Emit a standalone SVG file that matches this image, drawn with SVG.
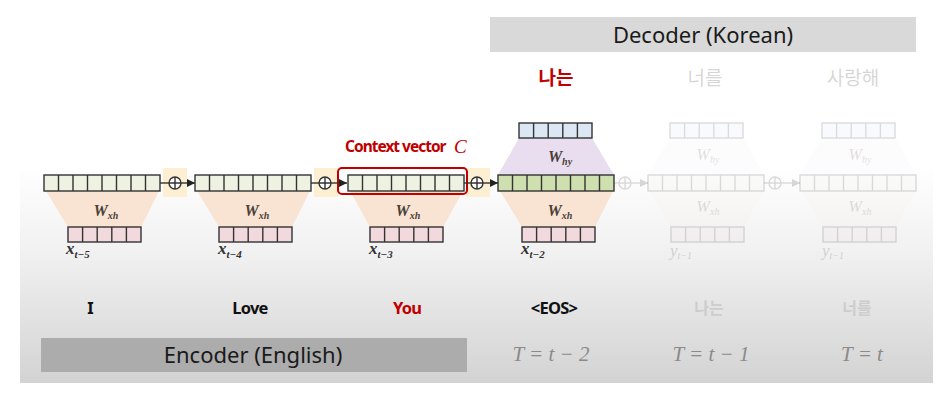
<svg xmlns="http://www.w3.org/2000/svg" width="950" height="400" viewBox="0 0 950 400">
<style>
.hid{fill:#eef2e2;stroke:#333;stroke-width:1.4}
.hidd{fill:#cfe0b0;stroke:#333;stroke-width:1.4}
.inp{fill:#f2d9dd;stroke:#333;stroke-width:1.4}
.out{fill:#dce7f4;stroke:#333;stroke-width:1.4}
.tw{fill:#f9e4d4}
.tp{fill:#e9def0}
.glow{fill:#fdf0d2}
.conn{stroke:#333;stroke-width:1.4;fill:none}
.plus{fill:#fff;stroke:#333;stroke-width:1.4}
.w{font-family:"Liberation Serif",serif;font-style:italic;font-weight:bold;font-size:16px;fill:#4a4038;text-anchor:middle}
.xl{font-family:"Liberation Serif",serif;font-style:italic;font-weight:bold;font-size:17px;fill:#333}
.word{font-family:"Noto Sans",sans-serif;font-weight:bold;font-size:16.5px;fill:#111;text-anchor:middle;letter-spacing:-0.8px}
.hdr{font-family:"Noto Sans",sans-serif;font-size:22px;fill:#1a1a1a;text-anchor:middle}
.kr{font-family:"Noto Sans CJK KR",sans-serif;font-size:19px;text-anchor:middle}
.tt{font-family:"Liberation Serif",serif;font-style:italic;font-size:21px;fill:#8a8a8a;text-anchor:middle}
.faded{opacity:0.17}
.fadedtrap{opacity:0.35}
</style>
<defs>
<linearGradient id="bg" x1="0" y1="0" x2="0" y2="1">
<stop offset="0" stop-color="#ffffff"/>
<stop offset="0.4" stop-color="#f1f1f1"/>
<stop offset="1" stop-color="#d3d3d3"/>
</linearGradient>
<g id="h8"><rect x="0" y="0" width="116" height="16"/><path d="M14.5 0V16M29 0V16M43.5 0V16M58 0V16M72.5 0V16M87 0V16M101.5 0V16"/></g>
<g id="v5"><rect x="0" y="0" width="73" height="15"/><path d="M14.6 0V15M29.2 0V15M43.8 0V15M58.4 0V15"/></g>
<g id="plusSign"><circle cx="0" cy="0" r="6"/><path d="M-6 0H6M0 -6V6"/></g>
<marker id="arr" viewBox="0 0 10 10" refX="10" refY="5" markerWidth="8" markerHeight="8" orient="auto" markerUnits="userSpaceOnUse"><path d="M0 0L10 5L0 10z" fill="#222"/></marker>
</defs>

<rect x="0" y="0" width="950" height="400" fill="#ffffff"/>
<rect x="20" y="165" width="913" height="218" fill="url(#bg)"/>

<g id="decoder-header">
<rect x="490" y="17" width="426" height="35" fill="#d9d9d9"/>
<text class="hdr" x="703" y="43">Decoder (Korean)</text>
</g>

<g id="encoder-footer">
<rect x="41" y="338" width="426" height="34" fill="#acacac"/>
<text class="hdr" x="253" y="363">Encoder (English)</text>
</g>

<g id="glows">
<rect class="glow" x="163" y="168" width="24" height="29"/>
<rect class="glow" x="314" y="168" width="24" height="29"/>
<rect class="glow" x="466" y="168" width="24" height="29"/>
</g>

<g id="enc1">
<polygon class="tw" points="46,191 159,191 141,227 68,227"/>
<use href="#h8" x="44" y="175" class="hid"/>
<use href="#v5" x="68" y="227" class="inp"/>
<text class="w" x="106" y="216">W<tspan font-size="10" dy="3">xh</tspan></text>
<text class="xl" x="66" y="254">x<tspan font-size="11" dy="4">t−5</tspan></text>
<text class="word" x="90" y="314">I</text>
</g>

<g id="enc2">
<polygon class="tw" points="197,191 310,191 292,227 219,227"/>
<use href="#h8" x="195" y="175" class="hid"/>
<use href="#v5" x="219" y="227" class="inp"/>
<text class="w" x="257" y="216">W<tspan font-size="10" dy="3">xh</tspan></text>
<text class="xl" x="218" y="254">x<tspan font-size="11" dy="4">t−4</tspan></text>
<text class="word" x="250" y="314">Love</text>
</g>

<g id="enc3">
<polygon class="tw" points="350,191 463,191 443,227 370,227"/>
<use href="#h8" x="348" y="175" class="hid"/>
<rect x="338" y="168" width="129" height="26" rx="4" fill="none" stroke="#c00000" stroke-width="2"/>
<use href="#v5" x="370" y="227" class="inp"/>
<text class="w" x="408" y="216">W<tspan font-size="10" dy="3">xh</tspan></text>
<text class="xl" x="369" y="254">x<tspan font-size="11" dy="4">t−3</tspan></text>
<text x="345" y="152" font-family="Noto Sans, sans-serif" font-weight="bold" font-size="15.5" fill="#c00000" letter-spacing="-1">Context vector</text>
<text x="454" y="153" font-family="Liberation Serif, serif" font-style="italic" font-size="19" fill="#c00000">C</text>
<text class="word" x="407" y="314" style="fill:#c00000">You</text>
</g>

<g id="dec1">
<polygon class="tp" points="519,138 592,138 614,175 498,175"/>
<polygon class="tw" points="500,191 613,191 595,227 522,227"/>
<use href="#v5" x="519" y="123" class="out"/>
<use href="#h8" x="498" y="175" class="hidd"/>
<use href="#v5" x="522" y="227" class="inp"/>
<text class="w" x="560" y="162">W<tspan font-size="10" dy="3">hy</tspan></text>
<text class="w" x="560" y="216">W<tspan font-size="10" dy="3">xh</tspan></text>
<text class="xl" x="521" y="254">x<tspan font-size="11" dy="4">t−2</tspan></text>
<text class="kr" x="556" y="85" font-weight="bold" fill="#c00000">나는</text>
<text class="word" x="554" y="314">&lt;EOS&gt;</text>
<text class="tt" x="551" y="361">T = t − 2</text>
</g>

<g id="dec2">
<g class="faded">
<g class="fadedtrap">
<polygon class="tp" points="670,138 743,138 764,175 648,175"/>
<polygon class="tw" points="650,191 763,191 744,227 671,227"/>
</g>
<use href="#v5" x="670" y="123" class="out"/>
<use href="#h8" x="648" y="175" class="hid"/>
<use href="#v5" x="671" y="227" class="inp"/>
<text class="w" x="708" y="160" style="font-weight:normal">W<tspan font-size="10" dy="3">hy</tspan></text>
<text class="w" x="708" y="212" style="font-weight:normal">W<tspan font-size="10" dy="3">xh</tspan></text>
<text class="xl" x="670" y="256" style="font-weight:normal">y<tspan font-size="10" dy="3">t−1</tspan></text>
<text class="kr" x="705" y="85" fill="#111">너를</text>
</g>
<text class="kr" x="709" y="314" fill="#cdcdcd" font-weight="bold" style="font-size:16px">나는</text>
<text class="tt" x="711" y="361">T = t − 1</text>
</g>

<g id="dec3">
<g class="faded">
<g class="fadedtrap">
<polygon class="tp" points="822,138 895,138 916,175 800,175"/>
<polygon class="tw" points="802,191 915,191 896,227 823,227"/>
</g>
<use href="#v5" x="822" y="123" class="out"/>
<use href="#h8" x="800" y="175" class="hid"/>
<use href="#v5" x="823" y="227" class="inp"/>
<text class="w" x="860" y="160" style="font-weight:normal">W<tspan font-size="10" dy="3">hy</tspan></text>
<text class="w" x="860" y="212" style="font-weight:normal">W<tspan font-size="10" dy="3">xh</tspan></text>
<text class="xl" x="822" y="256" style="font-weight:normal">y<tspan font-size="10" dy="3">t−1</tspan></text>
<text class="kr" x="853" y="85" fill="#111">사랑해</text>
</g>
<text class="kr" x="857" y="314" fill="#cdcdcd" font-weight="bold" style="font-size:16px">너를</text>
<text class="tt" x="862" y="361">T = t</text>
</g>

<g id="connectors">
<path class="conn" d="M160 183H169"/>
<path class="conn" d="M181 183H195" marker-end="url(#arr)"/>
<use href="#plusSign" x="175" y="183" class="plus"/>
<path class="conn" d="M311 183H319"/>
<path class="conn" d="M331 183H347" marker-end="url(#arr)"/>
<use href="#plusSign" x="325" y="183" class="plus"/>
<path class="conn" d="M464 183H471"/>
<path class="conn" d="M483 183H498" marker-end="url(#arr)"/>
<use href="#plusSign" x="477" y="183" class="plus"/>
<g class="faded">
<path class="conn" d="M614 183H619"/>
<path class="conn" d="M631 183H648" marker-end="url(#arr)"/>
<use href="#plusSign" x="625" y="183" class="plus"/>
<path class="conn" d="M764 183H769"/>
<path class="conn" d="M781 183H800" marker-end="url(#arr)"/>
<use href="#plusSign" x="775" y="183" class="plus"/>
</g>
</g>
</svg>
